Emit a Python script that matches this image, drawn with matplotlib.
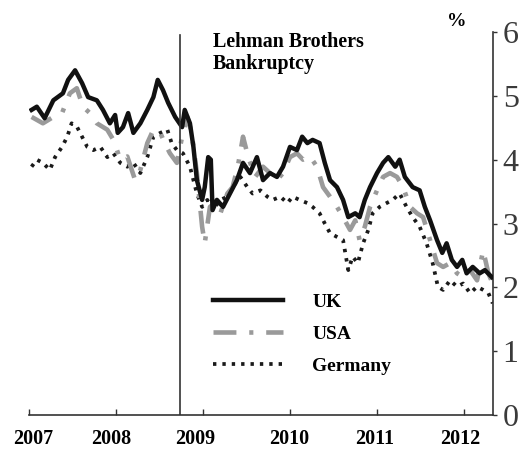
import numpy as np
import matplotlib
matplotlib.use("Agg")
import matplotlib.pyplot as plt

plt.rcParams['font.family'] = ['Liberation Serif', 'DejaVu Serif']

# 10-year government bond yields (%), time in decimal years
uk_t = [2007.03, 2007.09, 2007.18, 2007.28, 2007.39, 2007.45, 2007.53, 2007.61, 2007.68, 2007.78,
        2007.85, 2007.93, 2007.99, 2008.02, 2008.08, 2008.14, 2008.20, 2008.28, 2008.36, 2008.43,
        2008.48, 2008.54, 2008.60, 2008.68, 2008.76, 2008.79, 2008.85, 2008.89, 2008.93, 2008.99,
        2009.02, 2009.06, 2009.09, 2009.11, 2009.16, 2009.23, 2009.31, 2009.39, 2009.46, 2009.54,
        2009.62, 2009.69, 2009.77, 2009.85, 2009.92, 2010.00, 2010.08, 2010.14, 2010.20, 2010.26,
        2010.34, 2010.40, 2010.46, 2010.54, 2010.61, 2010.67, 2010.75, 2010.80, 2010.86, 2010.92,
        2011.00, 2011.07, 2011.13, 2011.21, 2011.26, 2011.32, 2011.41, 2011.49, 2011.55, 2011.61,
        2011.69, 2011.75, 2011.80, 2011.86, 2011.92, 2011.98, 2012.03, 2012.10, 2012.18, 2012.24,
        2012.32]
uk = [4.78, 4.83, 4.65, 4.93, 5.04, 5.25, 5.40, 5.20, 4.98, 4.93,
      4.78, 4.57, 4.70, 4.42, 4.51, 4.73, 4.42, 4.57, 4.78, 4.98,
      5.25, 5.09, 4.89, 4.67, 4.51, 4.78, 4.57, 4.20, 3.68, 3.37,
      3.57, 4.04, 4.00, 3.21, 3.37, 3.26, 3.47, 3.68, 3.95, 3.79,
      4.04, 3.68, 3.79, 3.73, 3.89, 4.20, 4.15, 4.36, 4.26, 4.31,
      4.26, 3.95, 3.68, 3.57, 3.37, 3.10, 3.16, 3.10, 3.37, 3.57,
      3.79, 3.95, 4.04, 3.89, 4.00, 3.73, 3.57, 3.52, 3.26, 3.05,
      2.74, 2.54, 2.69, 2.43, 2.32, 2.43, 2.22, 2.32, 2.22, 2.27,
      2.16]

usa_t = [2007.03, 2007.16, 2007.28, 2007.38, 2007.47, 2007.55, 2007.62, 2007.70, 2007.78, 2007.90,
         2007.97, 2008.05, 2008.13, 2008.22, 2008.28, 2008.36, 2008.43, 2008.51, 2008.56, 2008.62,
         2008.70, 2008.76, 2008.82, 2008.87, 2008.93, 2008.99, 2009.02, 2009.08, 2009.14, 2009.20,
         2009.28, 2009.34, 2009.40, 2009.46, 2009.52, 2009.60, 2009.69, 2009.77, 2009.85, 2009.92,
         2010.00, 2010.08, 2010.15, 2010.23, 2010.31, 2010.38, 2010.46, 2010.54, 2010.61, 2010.69,
         2010.75, 2010.80, 2010.86, 2010.92, 2011.00, 2011.07, 2011.15, 2011.23, 2011.30, 2011.38,
         2011.46, 2011.53, 2011.61, 2011.69, 2011.76, 2011.84, 2011.92, 2011.99, 2012.07, 2012.15,
         2012.22, 2012.28, 2012.33]
usa = [4.67, 4.57, 4.67, 4.73, 5.04, 5.12, 4.83, 4.73, 4.57, 4.47,
       4.31, 4.00, 4.05, 3.68, 3.84, 4.26, 4.47, 4.42, 4.26, 4.10,
       3.95, 4.36, 4.67, 4.42, 3.79, 2.95, 2.69, 3.26, 3.32, 3.16,
       3.47, 3.57, 3.89, 4.36, 4.04, 3.73, 3.89, 3.79, 3.68, 3.79,
       4.04, 4.10, 4.00, 4.05, 3.89, 3.57, 3.42, 3.26, 3.10, 2.90,
       3.05, 2.74, 2.95, 3.26, 3.52, 3.73, 3.79, 3.73, 3.57, 3.26,
       3.16, 3.10, 2.74, 2.38, 2.32, 2.38, 2.22, 2.16, 2.27, 2.11,
       2.58, 2.22, 2.06]

ger_t = [2007.03, 2007.09, 2007.16, 2007.24, 2007.30, 2007.38, 2007.44, 2007.49, 2007.55, 2007.61,
         2007.67, 2007.74, 2007.82, 2007.90, 2007.97, 2008.05, 2008.13, 2008.20, 2008.28, 2008.36,
         2008.43, 2008.51, 2008.59, 2008.64, 2008.70, 2008.77, 2008.85, 2008.93, 2008.99, 2009.05,
         2009.11, 2009.20, 2009.28, 2009.34, 2009.43, 2009.51, 2009.57, 2009.66, 2009.74, 2009.80,
         2009.89, 2009.97, 2010.03, 2010.11, 2010.20, 2010.26, 2010.34, 2010.40, 2010.46, 2010.54,
         2010.61, 2010.67, 2010.72, 2010.78, 2010.84, 2010.90, 2010.95, 2011.03, 2011.11, 2011.18,
         2011.26, 2011.34, 2011.41, 2011.49, 2011.57, 2011.64, 2011.70, 2011.76, 2011.84, 2011.92,
         2011.99, 2012.07, 2012.15, 2012.22, 2012.28, 2012.33]
ger = [3.89, 4.00, 3.95, 3.84, 4.04, 4.20, 4.36, 4.57, 4.52, 4.36,
       4.20, 4.15, 4.20, 4.04, 4.10, 3.95, 3.89, 3.95, 3.79, 4.04,
       4.36, 4.42, 4.47, 4.26, 4.15, 4.10, 3.89, 3.47, 3.26, 3.37,
       3.21, 3.37, 3.42, 3.57, 3.73, 3.57, 3.47, 3.52, 3.42, 3.37,
       3.42, 3.32, 3.42, 3.37, 3.32, 3.26, 3.16, 3.00, 2.85, 2.79,
       2.74, 2.27, 2.48, 2.38, 2.69, 2.90, 3.16, 3.26, 3.32, 3.37,
       3.47, 3.26, 3.10, 2.95, 2.69, 2.38, 2.01, 1.96, 2.11, 2.01,
       2.06, 1.91, 2.01, 1.96, 1.91, 1.75]

years = [2007, 2008, 2009, 2010, 2011, 2012]
year_labels = ['2007', '2008', '2009', '2010', '2011', '2012']
label_pos = [2007.05, 2007.94, 2008.91, 2009.99, 2010.97, 2011.96]
lehman = 2008.74

fig = plt.figure(figsize=(5.24, 4.51), dpi=100)
ax = fig.add_axes([0.0553, 0.0798, 0.8855, 0.8492])

ax.plot(ger_t, ger, color='#1a1a1a', lw=2.7, dashes=(0.9, 1.6), label='Germany', zorder=2)
ax.plot(usa_t, usa, color='#9a9a9a', lw=3.3, dashes=(5, 2.8, 0.9, 2.8), label='USA', zorder=3)
ax.plot(uk_t, uk, color='#111111', lw=3.2, label='UK', zorder=4)

# Lehman Brothers line
ax.plot([lehman, lehman], [0, 5.95], color='#333333', lw=1.2, zorder=5)
ax.text(2009.115, 6.0, 'Lehman Brothers\nBankruptcy', fontsize=14.4, fontweight='bold',
        va='top', ha='left', linespacing=1.1)

ax.set_xlim(2007.0, 2012.333)
ax.set_ylim(0, 6)

for s in ['left', 'top']:
    ax.spines[s].set_visible(False)
ax.spines['right'].set_color('#333333')
ax.spines['bottom'].set_color('#333333')
ax.spines['right'].set_linewidth(1.2)
ax.spines['bottom'].set_linewidth(1.2)

ax.yaxis.tick_right()
ax.set_yticks(range(7))
ax.tick_params(axis='y', direction='out', length=3, width=1, colors='#333333',
               labelsize=23, pad=4, labelcolor='#3a3a3a')

ax.set_xticks(years, minor=True)
ax.set_xticks(label_pos)
ax.set_xticklabels(year_labels, fontweight='bold', fontsize=14.5)
ax.tick_params(axis='x', which='major', length=0, pad=10)
ax.tick_params(axis='x', which='minor', direction='in', length=4, width=1, colors='#333333')

handles, labels = ax.get_legend_handles_labels()
order = [2, 1, 0]
leg = ax.legend([handles[i] for i in order], [labels[i] for i in order],
                loc='upper left', bbox_to_anchor=(0.3966, 0.318), frameon=False,
                prop={'weight': 'bold', 'size': 14}, handlelength=3.6,
                handletextpad=1.5, labelspacing=0.75, borderpad=0, borderaxespad=0)

fig.text(457 / 524, 1 - 22 / 451, '%', fontsize=14, fontweight='bold', ha='center', va='center')

fig.savefig('out.png', dpi=100)
